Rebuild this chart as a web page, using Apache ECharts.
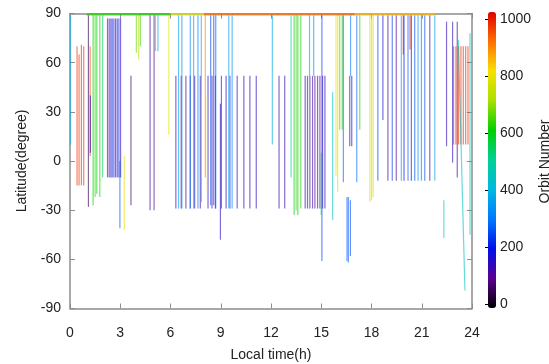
<!DOCTYPE html>
<html>
<head>
<meta charset="utf-8">
<script src="https://cdn.jsdelivr.net/npm/echarts@6/dist/echarts.min.js"></script>
<style>html,body{margin:0;padding:0;background:#fff}#c{width:549px;height:364px}</style>
</head>
<body>
<div id="c"></div>
<script>
// Local-time ticks, latitude ticks, orbit ticks
const xTicks = [0, 3, 6, 9, 12, 15, 18, 21, 24];
const yTicks = [-90, -60, -30, 0, 30, 60, 90];
const orbitTicks = [0, 200, 400, 600, 800, 1000];

// vertical tracks: [local time (h), start latitude, end latitude, orbit number]
const tracksNight = [
  [0.03, 89, 10, 380],
  [0.42, 70, -15, 960], [0.54, 65, -15, 960], [0.68, 71, -15, 960], [0.82, 70, -15, 960],
  [1.10, 89, -28, 60], [1.20, 70, 3, 940], [1.22, 40, 5, 150],
  [1.38, 89, -27, 600], [1.50, 89, -22, 630], [1.60, 89, -20, 600], [1.78, 89, -22, 610], [1.95, 89, -10, 540],
  [2.24, 87, -10, 150], [2.34, 87, -10, 140], [2.44, 87, -10, 160], [2.52, 87, -10, 220], [2.62, 87, -10, 150],
  [2.72, 87, -10, 140], [2.82, 87, -10, 160], [2.92, 87, -10, 210], [3.02, 87, -10, 150],
  [2.98, 0, -41, 270], [3.24, 3, -42, 780], [3.64, 52, -27, 70]
];
const tracksMorning = [
  [3.96, 89, 66, 660], [4.10, 89, 62, 720], [4.20, 89, 70, 640],
  [4.78, 89, -30, 130], [5.02, 89, -30, 110], [5.10, 89, 67, 640], [5.25, 89, 67, 370],
  [5.90, 89, 16, 780],
  [6.32, 52, -29, 140], [6.64, 52, -29, 140], [6.92, 52, -29, 90], [7.18, 52, -29, 140], [7.44, 52, -29, 150],
  [7.78, 52, -29, 120], [8.24, 52, -29, 140], [8.48, 52, -29, 150], [8.68, 52, -29, 90], [9.04, 52, -29, 140],
  [9.32, 52, -29, 150], [9.98, 52, -29, 140], [10.38, 52, -29, 150], [10.74, 52, -29, 140], [11.12, 52, -29, 150],
  [6.48, 89, -29, 360], [6.68, 89, -29, 340], [7.18, 89, -29, 330], [7.38, 89, -29, 360], [7.64, 89, -29, 300],
  [7.84, 89, -25, 380], [8.08, 89, -10, 880], [8.20, 40, -20, 820], [8.40, 89, -27, 250], [8.58, 89, -27, 240],
  [8.70, 89, -29, 280], [9.48, 89, -29, 350], [9.68, 89, -29, 340], [9.55, 52, -29, 240],
  [8.98, 35, -48, 160], [12.08, 89, 10, 380]
];
const tracksAfternoon = [
  [12.48, 52, -29, 140], [12.82, 52, -29, 140],
  [13.20, 89, -10, 500], [13.38, 89, -33, 600], [13.50, 89, -30, 640], [13.60, 89, -33, 600], [13.78, 89, -29, 610],
  [14.04, 52, -29, 150], [14.18, 52, -29, 100], [14.32, 52, -29, 150], [14.48, 52, -29, 140], [14.62, 52, -29, 90],
  [14.78, 52, -29, 150], [14.92, 52, -29, 100], [15.08, 52, -29, 150], [15.22, 52, -29, 140],
  [14.30, 89, 52, 350], [14.55, 89, 52, 330],
  [15.04, 89, -61, 250], [15.00, 5, -33, 560], [15.68, 42, -36, 450],
  [15.88, 89, -9, 780], [15.98, 89, -19, 760], [16.10, 89, 19, 640], [16.25, 89, 19, 620],
  [16.32, 89, -13, 280], [16.70, 52, 9, 170], [16.82, 52, 9, 150], [16.75, 89, 52, 300],
  [17.12, 89, -13, 290], [17.30, 89, 19, 620],
  [16.54, -22, -61, 260], [16.62, -22, -62, 280], [16.74, -24, -58, 250]
];
const tracksEvening = [
  [17.90, 89, -25, 780], [18.00, 89, -24, 720], [18.10, 89, -22, 760],
  [18.38, 89, -12, 250], [18.68, 89, 25, 180], [18.98, 89, -12, 120], [19.24, 89, -12, 250], [19.48, 89, -12, 100],
  [19.78, 89, -12, 350], [19.94, 89, -12, 200], [20.18, 89, -12, 280], [20.38, 89, -12, 90], [20.58, 89, -12, 260],
  [20.78, 89, -12, 340], [20.98, 89, -12, 300], [21.18, 89, -12, 260], [21.48, 89, -12, 120], [21.78, 89, -12, 370],
  [19.90, 89, 65, 990], [20.30, 89, 68, 990],
  [22.48, 85, 9, 150], [22.84, 85, -1, 150], [23.12, 85, -10, 120],
  [22.90, 70, 10, 960], [23.04, 70, 10, 960], [23.20, 70, 10, 960], [23.34, 70, 10, 960],
  [23.48, 70, 10, 960], [23.62, 70, 10, 960], [23.76, 70, 10, 960],
  [22.32, -24, -47, 450], [23.88, 78, -45, 450]
];
// slanted tracks: [start time, start latitude, end time, end latitude, orbit number]
const slantTracks = [
  [23.18, 74, 23.58, -79, 440]
];
// polar band near 90°: [start time, end time, latitude, orbit number]
const poleTracks = [
  [1.0, 6.0, 89.6, 620], [6.0, 8.0, 89.6, 760], [8.0, 17.0, 89.6, 900], [17.0, 21.8, 89.6, 840]
];

const allTracks = [].concat(tracksNight, tracksMorning, tracksAfternoon, tracksEvening);
const segData = allTracks.map(t => [t[0], t[1], t[2], t[3], t[0]])
  .concat(slantTracks.map(s => [s[0], s[1], s[3], s[4], s[2]]));
const poleData = poleTracks.map(p => [p[0], p[2], p[2], p[3], p[1]]);

function seg(width, op) {
  return function (params, api) {
    const a = api.coord([api.value(0), api.value(1)]);
    const b = api.coord([api.value(4), api.value(2)]);
    return {
      type: 'line',
      shape: { x1: a[0], y1: a[1], x2: b[0], y2: b[1] },
      style: { stroke: api.visual('color'), lineWidth: width, opacity: op }
    };
  };
}

const FONT = 'Liberation Sans, Arial, sans-serif';
const gray = '#8c8c8c';
const chart = echarts.init(document.getElementById('c'));
chart.setOption({
  animation: false,
  textStyle: { fontFamily: FONT },
  grid: [
    { left: 70, right: 77, top: 13.5, bottom: 55.5, show: false, containLabel: false, outerBoundsMode: 'none' },
    { left: 488, width: 8, top: 19, height: 285, show: false, containLabel: false, outerBoundsMode: 'none' }
  ],
  visualMap: {
    type: 'continuous', min: 0, max: 1000, dimension: 3, seriesIndex: [0, 1],
    calculable: false, left: 488, top: 12, itemWidth: 8, itemHeight: 296, padding: 0,
    text: null, hoverLink: false,
    inRange: { color: ['#000000', '#5a0090', '#0010e8', '#0078ff', '#00b8e0', '#00d098', '#00d000', '#a8e000', '#f8e000', '#ff7000', '#e00000'] }
  },
  xAxis: [
    { gridIndex: 0, type: 'value', min: xTicks[0], max: xTicks[xTicks.length - 1], interval: 3, position: 'bottom',
      axisLine: { onZero: false, lineStyle: { color: gray, width: 1.5 } },
      axisTick: { inside: true, length: 5, lineStyle: { color: gray } },
      axisLabel: { fontSize: 14, color: '#222', margin: 18, fontFamily: FONT },
      splitLine: { show: false },
      name: 'Local time(h)', nameLocation: 'middle', nameGap: 40,
      nameTextStyle: { fontSize: 14, color: '#222', fontFamily: FONT } },
    { gridIndex: 0, type: 'value', min: 0, max: 24, interval: 3, position: 'top',
      axisLine: { onZero: false, lineStyle: { color: gray, width: 1.5 } },
      axisTick: { inside: true, length: 5, lineStyle: { color: gray } },
      axisLabel: { show: false }, splitLine: { show: false } },
    { gridIndex: 1, type: 'value', show: false, min: 0, max: 1 }
  ],
  yAxis: [
    { gridIndex: 0, type: 'value', min: yTicks[0], max: yTicks[yTicks.length - 1], interval: 30, position: 'left',
      axisLine: { onZero: false, lineStyle: { color: gray, width: 1.5 } },
      axisTick: { inside: true, length: 5, lineStyle: { color: gray } },
      axisLabel: { fontSize: 14, color: '#222', margin: 9, fontFamily: FONT },
      splitLine: { show: false },
      name: 'Latitude(degree)', nameLocation: 'middle', nameGap: 41,
      nameTextStyle: { fontSize: 14, color: '#222', fontFamily: FONT } },
    { gridIndex: 0, type: 'value', min: -90, max: 90, interval: 30, position: 'right',
      axisLine: { onZero: false, lineStyle: { color: gray, width: 1.5 } },
      axisTick: { inside: true, length: 5, lineStyle: { color: gray } },
      axisLabel: { show: false }, splitLine: { show: false } },
    { gridIndex: 1, type: 'value', min: orbitTicks[0], max: orbitTicks[orbitTicks.length - 1], interval: 200, position: 'right',
      axisLine: { show: false },
      axisTick: { show: true, inside: true, length: 3, lineStyle: { color: '#000' } },
      axisLabel: { fontSize: 14, color: '#222', margin: 4, fontFamily: FONT, formatter: v => String(v) },
      splitLine: { show: false },
      name: 'Orbit Number', nameLocation: 'middle', nameRotate: 90, nameGap: 42,
      nameTextStyle: { fontSize: 14, color: '#222', fontFamily: FONT } }
  ],
  series: [
    { type: 'custom', xAxisIndex: 0, yAxisIndex: 0, data: segData, renderItem: seg(1.2, 0.6),
      encode: { x: [0, 4], y: [1, 2] }, silent: true },
    { type: 'custom', xAxisIndex: 0, yAxisIndex: 0, data: poleData, renderItem: seg(2.5, 0.75),
      encode: { x: [0, 4], y: [1, 2] }, silent: true }
  ]
});
</script>
</body>
</html>
